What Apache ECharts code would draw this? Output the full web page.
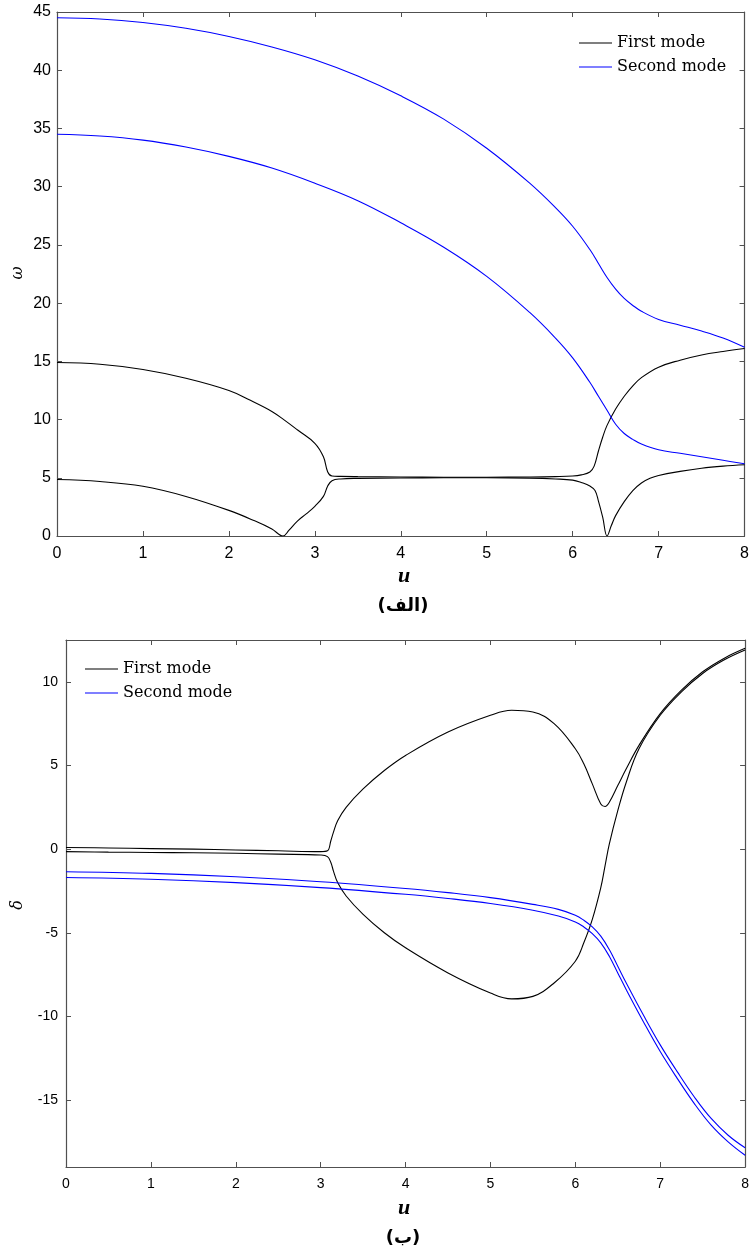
<!DOCTYPE html>
<html>
<head>
<meta charset="utf-8">
<script src="https://cdn.jsdelivr.net/npm/echarts@6/dist/echarts.min.js"></script>
<style>
  html, body { margin: 0; padding: 0; background: #fff; }
  #chart { width: 752px; height: 1252px; }
</style>
</head>
<body>
<div id="chart"></div>
<script>
// ---- Panel (الف): natural frequency ω versus flow velocity u ----
const omegaFirstLowU  = [0, 0.5, 1, 1.5, 2, 2.3, 2.5, 2.63, 2.7, 2.8, 2.9, 3.0, 3.1, 3.15, 3.2, 3.3, 3.5, 4, 4.5, 5, 5.5, 5.8, 6.0, 6.1, 6.2, 6.26, 6.3, 6.35, 6.4, 6.45, 6.5, 6.6, 6.7, 6.8, 6.9, 7.0, 7.25, 7.5, 7.75, 8];
const omegaFirstLow   = [4.85, 4.68, 4.27, 3.4, 2.2, 1.3, 0.6, 0, 0.5, 1.3, 1.9, 2.55, 3.4, 4.3, 4.75, 4.9, 4.95, 4.98, 5.0, 5.0, 4.97, 4.9, 4.8, 4.6, 4.3, 3.9, 3.0, 1.6, 0, 0.9, 1.75, 2.95, 3.9, 4.55, 4.95, 5.2, 5.55, 5.82, 6.0, 6.12];

const omegaFirstHighU = [0, 0.5, 1, 1.5, 2, 2.25, 2.5, 2.65, 2.8, 3.0, 3.1, 3.15, 3.2, 3.3, 3.5, 4, 4.5, 5, 5.5, 5.8, 6.0, 6.1, 6.2, 6.25, 6.3, 6.35, 6.4, 6.5, 6.6, 6.7, 6.8, 7.0, 7.25, 7.5, 7.75, 8];
const omegaFirstHigh  = [14.9, 14.75, 14.3, 13.55, 12.5, 11.65, 10.7, 9.93, 9.1, 7.96, 6.8, 5.5, 5.15, 5.12, 5.1, 5.07, 5.05, 5.05, 5.07, 5.1, 5.15, 5.25, 5.5, 6.0, 7.3, 8.5, 9.5, 10.9, 12.0, 12.9, 13.6, 14.5, 15.1, 15.55, 15.85, 16.1];

const omegaSecondU    = [0, 0.5, 1, 1.5, 2, 2.5, 3, 3.5, 4, 4.5, 5, 5.5, 5.8, 6.0, 6.2, 6.3, 6.4, 6.5, 6.6, 6.7, 6.8, 7.0, 7.25, 7.5, 7.75, 8];
const omegaSecondHigh = [44.5, 44.4, 44.1, 43.6, 42.9, 42.0, 40.9, 39.5, 37.8, 35.8, 33.3, 30.3, 28.2, 26.6, 24.6, 23.4, 22.2, 21.2, 20.4, 19.8, 19.3, 18.6, 18.1, 17.6, 17.0, 16.2];
const omegaSecondLow  = [34.5, 34.35, 34.0, 33.4, 32.6, 31.6, 30.3, 28.8, 26.9, 24.8, 22.3, 19.2, 17.0, 15.3, 13.2, 12.0, 10.8, 9.6, 8.8, 8.3, 7.9, 7.4, 7.1, 6.8, 6.5, 6.2];

// ---- Panel (ب): damping δ versus flow velocity u ----
const deltaFirstU     = [0, 0.5, 1, 1.5, 2, 2.5, 3, 3.08, 3.12, 3.15, 3.2, 3.3, 3.5, 3.75, 4, 4.5, 5, 5.25, 5.5, 5.75, 6.0, 6.1, 6.2, 6.3, 6.35, 6.4, 6.5, 6.6, 6.75, 7.0, 7.25, 7.5, 7.75, 8];
const deltaFirstUpper = [0.1, 0.07, 0.03, 0.0, -0.05, -0.1, -0.15, -0.1, 0.5, 1.0, 1.7, 2.5, 3.6, 4.7, 5.6, 7.0, 8.0, 8.3, 8.2, 7.5, 6.0, 5.1, 3.9, 2.7, 2.55, 2.8, 3.8, 4.8, 6.2, 8.1, 9.5, 10.6, 11.4, 12.0];
const deltaFirstLower = [-0.15, -0.18, -0.2, -0.22, -0.25, -0.3, -0.35, -0.45, -0.8, -1.3, -2.0, -2.8, -3.9, -5.0, -5.9, -7.4, -8.6, -8.95, -8.8, -8.0, -6.7, -5.6, -4.2, -2.3, -1.0, 0.3, 2.3, 4.0, 6.0, 8.0, 9.4, 10.5, 11.3, 11.9];

const deltaSecondU     = [0, 1, 2, 3, 4, 4.5, 5, 5.5, 5.8, 6.0, 6.1, 6.2, 6.3, 6.4, 6.5, 6.6, 6.8, 7.0, 7.2, 7.4, 7.6, 7.8, 8];
const deltaSecondUpper = [-1.35, -1.45, -1.65, -1.95, -2.35, -2.6, -2.9, -3.3, -3.6, -3.95, -4.25, -4.65, -5.2, -6.0, -7.0, -8.0, -9.9, -11.7, -13.3, -14.8, -16.1, -17.1, -17.85];
const deltaSecondLower = [-1.7, -1.8, -2.0, -2.3, -2.7, -2.95, -3.25, -3.65, -4.0, -4.35, -4.65, -5.05, -5.6, -6.4, -7.4, -8.4, -10.3, -12.1, -13.7, -15.2, -16.5, -17.5, -18.3];

// ---- Axis ticks ----
const uTicks     = [0, 1, 2, 3, 4, 5, 6, 7, 8];
const omegaTicks = [0, 5, 10, 15, 20, 25, 30, 35, 40, 45];
const deltaTicks = [-15, -10, -5, 0, 5, 10];

const FIRST = 'First mode';
const SECOND = 'Second mode';
const BLACK = '#000000';
const BLUE = '#0000ff';
const AXIS = '#505050';

function zip(xs, ys) { return xs.map((x, i) => [x, ys[i]]); }

function curve(name, color, xIdx, yIdx, xs, ys) {
  return {
    type: 'line', name: name, xAxisIndex: xIdx, yAxisIndex: yIdx,
    data: zip(xs, ys), symbol: 'none', smooth: 0.4,
    clip: true, silent: true, animation: false,
    lineStyle: { color: color, width: 1.1 }, itemStyle: { color: color }
  };
}

function boxAxis(grid, pos, ticks, showLabels, fontSize, margin) {
  return {
    type: 'value', gridIndex: grid, position: pos,
    min: ticks.min, max: ticks.max,
    axisLine: { show: true, onZero: false, lineStyle: { color: AXIS, width: 1.2 } },
    axisTick: { show: true, inside: true, length: 5, lineStyle: { color: AXIS, width: 1 }, customValues: ticks.values },
    splitLine: { show: false },
    axisLabel: {
      show: showLabels, color: '#000', fontFamily: 'Liberation Sans, Arial, sans-serif',
      fontSize: fontSize, margin: margin, customValues: ticks.values
    }
  };
}

const uRange     = { min: 0, max: 8, values: uTicks };
const omegaRange = { min: 0, max: 45, values: omegaTicks };
const deltaRange = { min: -19, max: 12.5, values: deltaTicks };

function legendAt(left, top) {
  return {
    left: left, top: top, orient: 'vertical', itemGap: 8,
    itemWidth: 33, itemHeight: 1.2, icon: 'rect', itemStyle: { borderWidth: 0 },
    data: [{ name: FIRST, itemStyle: { color: BLACK } }, { name: SECOND, itemStyle: { color: BLUE } }],
    textStyle: { fontFamily: 'DejaVu Serif, serif', fontSize: 16, color: '#000', padding: [0, 0, 0, 0] },
    selectedMode: false
  };
}

const chart = echarts.init(document.getElementById('chart'), null, { renderer: 'canvas', width: 752, height: 1252 });

const option = {
  backgroundColor: '#fff',
  animation: false,
  grid: [
    { left: 57, top: 12, width: 693, height: 524 },
    { left: 66, top: 640, width: 684, height: 527 }
  ],
  xAxis: [
    boxAxis(0, 'bottom', uRange, true, 16, 10),
    boxAxis(0, 'top', uRange, false, 16, 8),
    boxAxis(1, 'bottom', uRange, true, 14, 10),
    boxAxis(1, 'top', uRange, false, 14, 8)
  ],
  yAxis: [
    boxAxis(0, 'left', omegaRange, true, 16, 6),
    boxAxis(0, 'right', omegaRange, false, 16, 6),
    boxAxis(1, 'left', deltaRange, true, 14, 8),
    boxAxis(1, 'right', deltaRange, false, 14, 8)
  ],
  legend: [legendAt(574, 30), legendAt(80, 656)],
  graphic: [
    { type: 'text', left: 398, top: 565, style: { text: 'u', font: 'bold italic 22px "Liberation Serif", serif', fill: '#000' } },
    { type: 'text', x: 403, y: 606, style: { text: '(الف)', font: 'bold 18px "DejaVu Sans", sans-serif', fill: '#000', align: 'center', verticalAlign: 'middle' } },
    { type: 'text', x: 18, y: 273, rotation: Math.PI / 2, style: { text: 'ω', font: 'italic 16px "DejaVu Serif", serif', fill: '#000', align: 'center', verticalAlign: 'middle' } },
    { type: 'text', left: 398, top: 1197, style: { text: 'u', font: 'bold italic 22px "Liberation Serif", serif', fill: '#000' } },
    { type: 'text', x: 403, y: 1238, style: { text: '(ب)', font: 'bold 18px "DejaVu Sans", sans-serif', fill: '#000', align: 'center', verticalAlign: 'middle' } },
    { type: 'text', x: 18, y: 905, rotation: Math.PI / 2, style: { text: 'δ', font: 'italic 16px "DejaVu Serif", serif', fill: '#000', align: 'center', verticalAlign: 'middle' } }
  ],
  series: [
    curve(FIRST, BLACK, 0, 0, omegaFirstLowU, omegaFirstLow),
    curve(FIRST, BLACK, 0, 0, omegaFirstHighU, omegaFirstHigh),
    curve(SECOND, BLUE, 0, 0, omegaSecondU, omegaSecondHigh),
    curve(SECOND, BLUE, 0, 0, omegaSecondU, omegaSecondLow),
    curve(FIRST, BLACK, 2, 2, deltaFirstU, deltaFirstUpper),
    curve(FIRST, BLACK, 2, 2, deltaFirstU, deltaFirstLower),
    curve(SECOND, BLUE, 2, 2, deltaSecondU, deltaSecondUpper),
    curve(SECOND, BLUE, 2, 2, deltaSecondU, deltaSecondLower)
  ]
};

chart.setOption(option);
</script>
</body>
</html>
